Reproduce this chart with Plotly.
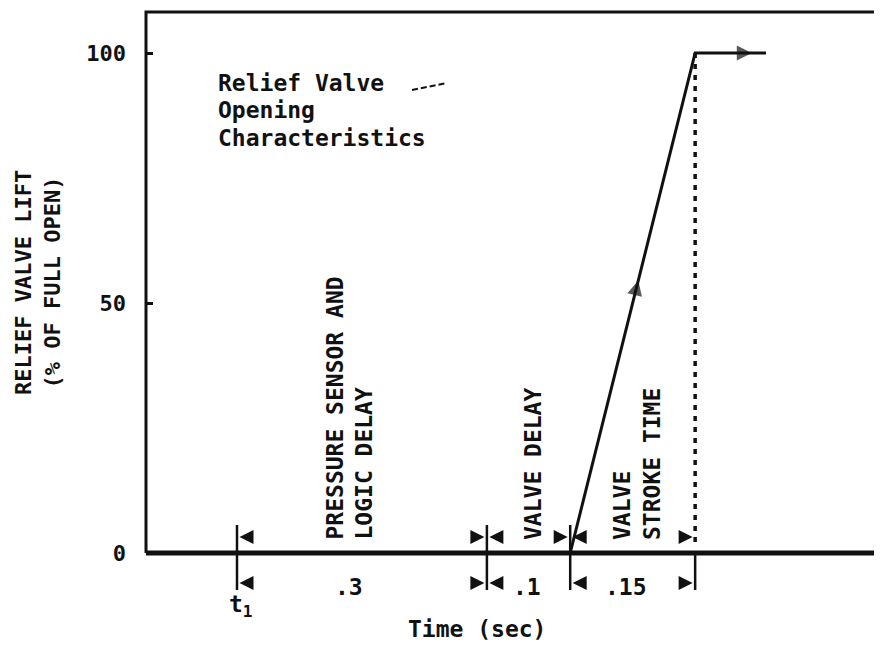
import math
import plotly.graph_objects as go

# ---------------- data ----------------
lift_ticks = [0, 50, 100]
lift_tick_labels = ["0", "50", "100"]
phase_names = ["PRESSURE SENSOR AND<br>LOGIC DELAY", "VALVE DELAY", "VALVE<br>STROKE TIME"]
phase_durations = [0.3, 0.1, 0.15]
phase_labels = [".3", ".1", ".15"]
t1 = 0.0
open_time = [0.4, 0.55, 0.635]
open_lift = [0, 100, 100]
note_lines = ["Relief Valve", "Opening", "Characteristics"]

# ---------------- page geometry ----------------
PAGE_W, PAGE_H = 882, 658
OFF = 8                               # default body margin of the html page
W, H = PAGE_W - OFF, PAGE_H - OFF     # figure size
X0_PX, PX_PER_S = 237.0, 833.0        # t1 position on the page, px per second
Y0_PX, PX_PER_PCT = 553.0, 5.0        # zero lift position on the page, px per % lift


def tx(px):
    """page x pixel -> time"""
    return (px - X0_PX) / PX_PER_S


def ty(py):
    """page y pixel -> lift"""
    return (Y0_PX - py) / PX_PER_PCT


xr = [tx(OFF), tx(OFF + W)]
yr = [ty(OFF + H), ty(OFF)]

INK = "#111111"
FONT = "DejaVu Sans Mono"
font_main = dict(family=FONT, size=23, color=INK, weight="bold")

bounds = [t1]
for d in phase_durations:
    bounds.append(round(bounds[-1] + d, 6))

fig = go.Figure()

x_left = tx(146)
y_top = ty(12)
# frame (left + top border)
fig.add_trace(go.Scatter(x=[x_left, x_left, xr[1] + 0.05], y=[0, y_top, y_top], mode="lines",
                         line=dict(color=INK, width=3), hoverinfo="skip", showlegend=False))
# time axis (thick baseline)
fig.add_trace(go.Scatter(x=[x_left, xr[1] + 0.05], y=[0, 0], mode="lines",
                         line=dict(color=INK, width=5), hoverinfo="skip", showlegend=False))
# dotted drop line at end of stroke
fig.add_trace(go.Scatter(x=[open_time[1], open_time[1]], y=[open_lift[1], ty(548)], mode="lines",
                         line=dict(color=INK, width=3.5, dash="5px,6px"), hoverinfo="skip", showlegend=False))
# opening characteristic
fig.add_trace(go.Scatter(x=open_time, y=open_lift, mode="lines",
                         line=dict(color=INK, width=3), hoverinfo="skip", showlegend=False))

# direction arrows on the curve
ramp_frac = 0.545
hor_frac = 0.8
ax_ramp = open_time[0] + ramp_frac * (open_time[1] - open_time[0])
ay_ramp = open_lift[0] + ramp_frac * (open_lift[1] - open_lift[0])
ax_hor = open_time[1] + hor_frac * (open_time[2] - open_time[1])
ramp_angle = math.degrees(math.atan2((open_time[1] - open_time[0]) * PX_PER_S,
                                     (open_lift[1] - open_lift[0]) * PX_PER_PCT))
fig.add_trace(go.Scatter(x=[ax_ramp, ax_hor], y=[ay_ramp, open_lift[2]], mode="markers",
                         marker=dict(symbol=["arrow-up", "arrow-right"], size=[15, 15],
                                     angle=[ramp_angle, 0], color=INK, line=dict(width=0)),
                         hoverinfo="skip", showlegend=False))

# dimension tick lines
up, dn = ty(525), ty(590)
tick_x, tick_y = [], []
for b in bounds[:-1]:
    tick_x += [b, b, None]
    tick_y += [up, dn, None]
tick_x += [bounds[-1], bounds[-1], None]
tick_y += [0, dn, None]
fig.add_trace(go.Scatter(x=tick_x, y=tick_y, mode="lines", line=dict(color=INK, width=2.5),
                         hoverinfo="skip", showlegend=False))

# dimension arrowheads (above and below the axis)
gap = 2.5 / PX_PER_S
row_above, row_below = ty(537), ty(583)
ah_x, ah_y, ah_sym = [], [], []
for i in range(len(phase_durations)):
    a, b = bounds[i], bounds[i + 1]
    for row in (row_above, row_below):
        ah_x.append(a + gap); ah_y.append(row); ah_sym.append("arrow-left")
        if not (row == row_below and i == 1):
            ah_x.append(b - gap); ah_y.append(row); ah_sym.append("arrow-right")
fig.add_trace(go.Scatter(x=ah_x, y=ah_y, mode="markers",
                         marker=dict(symbol=ah_sym, size=14, color=INK, line=dict(width=0)),
                         hoverinfo="skip", showlegend=False))

annotations = []
# phase names (rotated)
name_px = [349, 533, 637]
for name, px in zip(phase_names, name_px):
    annotations.append(dict(x=tx(px), y=ty(542), xref="x", yref="y", text=name, textangle=-90,
                            showarrow=False, xanchor="center", yanchor="bottom", align="left",
                            font=font_main))
# durations
dur_px = [349, 527, 626]
for lab, px in zip(phase_labels, dur_px):
    annotations.append(dict(x=tx(px), y=ty(587), xref="x", yref="y", text=lab, showarrow=False,
                            xanchor="center", yanchor="middle", font=font_main))
annotations.append(dict(x=tx(241), y=ty(606), xref="x", yref="y", text="t<sub>1</sub>", showarrow=False,
                        xanchor="center", yanchor="middle", font=font_main))
# axis titles
annotations.append(dict(x=tx(477), y=ty(629), xref="x", yref="y", text="Time (sec)", showarrow=False,
                        xanchor="center", yanchor="middle", font=font_main))
annotations.append(dict(x=tx(38), y=ty(283), xref="x", yref="y",
                        text="RELIEF VALVE LIFT<br>(% OF FULL OPEN)", textangle=-90, showarrow=False,
                        xanchor="center", yanchor="middle", align="center",
                        font=dict(family=FONT, size=22, color=INK, weight="bold")))
# note (typed lines)
note_y = [83, 110, 138]
for line, py in zip(note_lines, note_y):
    annotations.append(dict(x=tx(216), y=ty(py), xref="x", yref="y", text=line, showarrow=False,
                            xanchor="left", yanchor="middle", align="left", font=font_main))

fig.update_layout(
    width=W, height=H,
    margin=dict(l=0, r=0, t=0, b=0),
    paper_bgcolor="white", plot_bgcolor="white",
    showlegend=False,
    xaxis=dict(range=xr, visible=False, domain=[0, 1]),
    yaxis=dict(range=yr, anchor="free", position=(146 - OFF) / W, showgrid=False, zeroline=False,
               showline=False, tickmode="array", tickvals=lift_ticks, ticktext=lift_tick_labels,
               ticks="inside", ticklen=6, tickwidth=3, tickcolor=INK, ticklabelstandoff=20,
               tickfont=dict(family=FONT, size=22, color=INK, weight="bold")),
    annotations=annotations,
    shapes=[dict(type="line", xref="x", yref="y", x0=tx(412), y0=ty(90), x1=tx(447), y1=ty(83),
                 line=dict(color=INK, width=2, dash="6px,3px"))],
)

fig.write_html("out.html")
